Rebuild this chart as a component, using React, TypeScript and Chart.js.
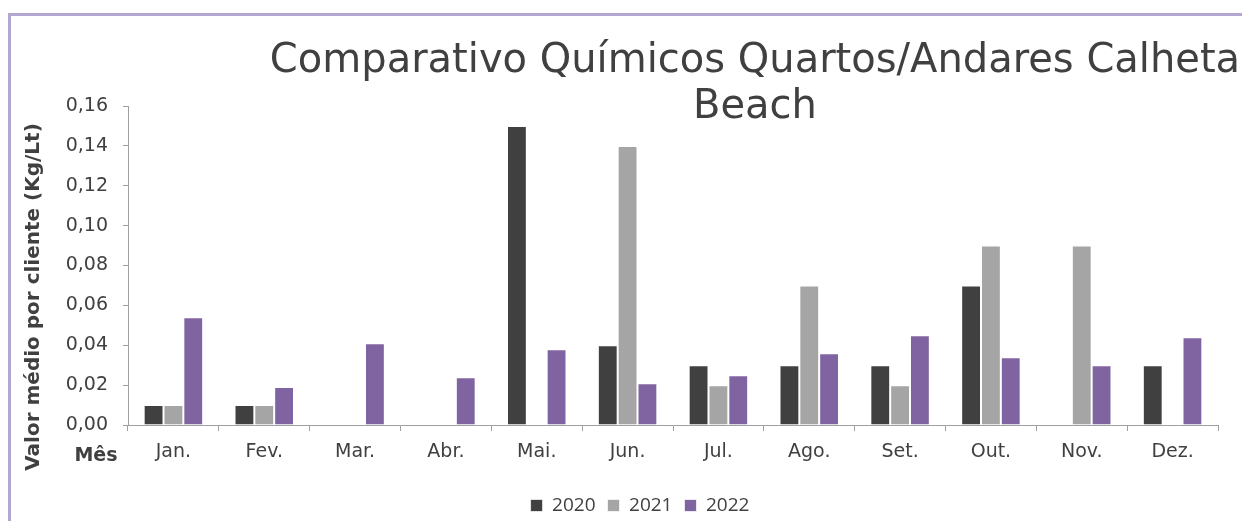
import React, { useEffect, useRef } from 'react';
import { Chart, registerables } from 'chart.js';

Chart.register(...registerables);

const categories = ['Jan.', 'Fev.', 'Mar.', 'Abr.', 'Mai.', 'Jun.', 'Jul.', 'Ago.', 'Set.', 'Out.', 'Nov.', 'Dez.'];
const seriesNames = ['2020', '2021', '2022'];
const values2020 = [0.01, 0.01, null, null, 0.15, 0.04, 0.03, 0.03, 0.03, 0.07, null, 0.03];
const values2021 = [0.01, 0.01, null, null, null, 0.14, 0.02, 0.07, 0.02, 0.09, 0.09, null];
const values2022 = [0.054, 0.019, 0.041, 0.024, 0.038, 0.021, 0.025, 0.036, 0.045, 0.034, 0.03, 0.044];
const seriesColors = ['#404040', '#a5a5a5', '#8064a2'];
const titleLines = ['Comparativo Químicos Quartos/Andares Calheta', 'Beach'];
const yAxisTitle = 'Valor médio por cliente (Kg/Lt)';
const xAxisTitle = 'Mês';

const FONT = '"DejaVu Sans", sans-serif';
const TEXT = '#404040';
const AXIS = '#a0a0a0';

const textPlugin = {
  id: 'customText',
  afterDraw(chart: any) {
    const ctx = chart.ctx as CanvasRenderingContext2D;
    ctx.save();
    ctx.fillStyle = TEXT;
    ctx.textAlign = 'center';
    ctx.textBaseline = 'alphabetic';
    ctx.font = `40px ${FONT}`;
    ctx.fillText(titleLines[0], 744, 56);
    ctx.fillText(titleLines[1], 744, 102);

    ctx.font = `bold 19px ${FONT}`;
    ctx.fillText(xAxisTitle, 85, 445);

    ctx.font = `bold 20px ${FONT}`;
    ctx.translate(23, 281);
    ctx.rotate(-Math.PI / 2);
    ctx.textBaseline = 'middle';
    ctx.fillText(yAxisTitle, 0, 0);
    ctx.restore();
  },
};

export default function App() {
  const ref = useRef<HTMLCanvasElement>(null);

  useEffect(() => {
    if (!ref.current) return;
    const series = [values2020, values2021, values2022];
    const chart = new Chart(ref.current, {
      type: 'bar',
      data: {
        labels: categories,
        datasets: series.map((vals, i) => ({
          label: seriesNames[i],
          data: vals,
          backgroundColor: seriesColors[i],
          borderColor: 'rgba(255,255,255,0.7)',
          borderWidth: 1,
          categoryPercentage: 0.655,
          barPercentage: 1,
        })),
      },
      options: {
        responsive: false,
        animation: false,
        layout: { padding: { left: 51, right: 24, top: 90, bottom: 0 } },
        plugins: {
          title: { display: false },
          tooltip: { enabled: false },
          legend: {
            position: 'bottom',
            labels: {
              boxWidth: 12,
              boxHeight: 12,
              padding: 12,
              color: TEXT,
              font: { family: '"Open Sans", sans-serif', size: 19 },
            },
          },
        },
        scales: {
          x: {
            afterFit(scale: any) {
              scale.height = 59;
            },
            grid: {
              display: true,
              drawOnChartArea: false,
              drawTicks: true,
              tickLength: 6,
              color: AXIS,
              offset: true,
            },
            border: { display: true, color: AXIS, width: 1 },
            ticks: {
              color: TEXT,
              padding: 10,
              font: { family: FONT, size: 19 },
            },
          },
          y: {
            min: 0,
            max: 0.16,
            afterFit(scale: any) {
              scale.width = 66;
            },
            grid: {
              display: true,
              drawOnChartArea: false,
              drawTicks: true,
              tickLength: 5,
              color: AXIS,
            },
            border: { display: true, color: AXIS, width: 1 },
            ticks: {
              stepSize: 0.02,
              color: TEXT,
              padding: 15,
              font: { family: FONT, size: 19 },
              callback: (v: any) => Number(v).toFixed(2).replace('.', ','),
            },
          },
        },
      },
      plugins: [textPlugin],
    });
    return () => chart.destroy();
  }, []);

  return (
    <div style={{ paddingTop: 5, height: 513, overflow: 'hidden', boxSizing: 'border-box' }}>
      <div style={{ borderTop: '3px solid #b5a8d0', borderLeft: '3px solid #b5a8d0' }}>
        <canvas ref={ref} width={1231} height={509} style={{ display: 'block' }} />
      </div>
    </div>
  );
}
